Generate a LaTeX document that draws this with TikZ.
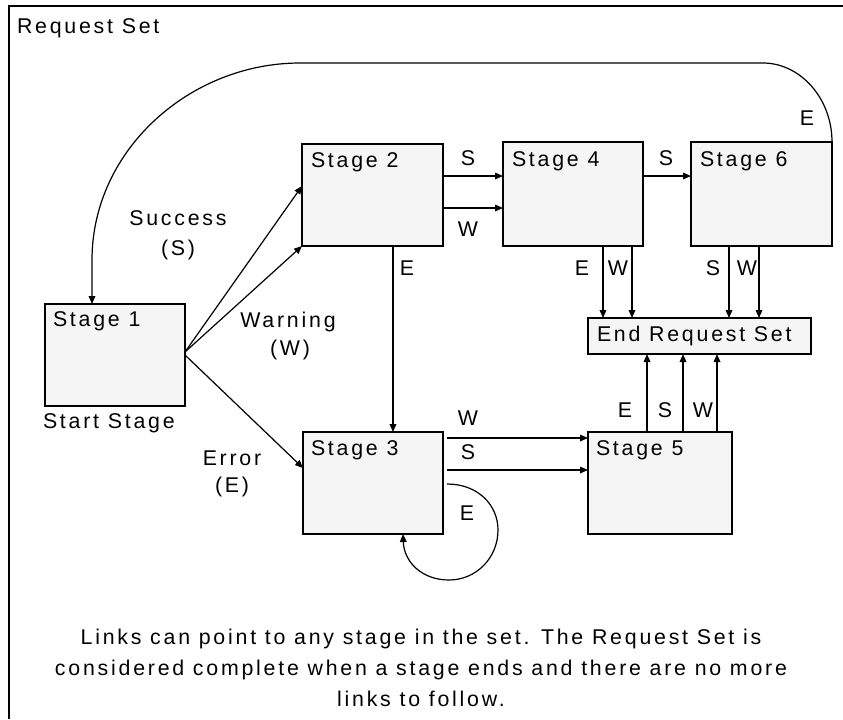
\documentclass[tikz,border=0pt]{standalone}
\usepackage{fontspec}
\setmainfont{Liberation Sans}[LetterSpace=13]
\usetikzlibrary{arrows.meta,calc}
\definecolor{boxgray}{RGB}{245,245,245}
\begin{document}
\begin{tikzpicture}[x=0.75pt,y=-0.75pt,
  every node/.style={font=\fontsize{16pt}{18pt}\selectfont, inner sep=0pt, outer sep=0pt},
  stagebox/.style={draw=black, line width=1.2pt, fill=boxgray, anchor=north west},
  arr/.style={line width=0.9pt, -{Triangle[length=6pt,width=5pt]}},
  plain/.style={line width=0.9pt}]
\useasboundingbox (0,0) rectangle (843,719);
\fill[white] (0,0) rectangle (843,719);
\draw[line width=1.5pt] (9,719) -- (9,6) -- (843,6);
\node[anchor=west] (title) at (17,28) {Request Set};

% boxes
\node[stagebox, minimum width=140*0.75pt, minimum height=102*0.75pt] (s1) at (45,304) {};
\node[stagebox, minimum width=141*0.75pt, minimum height=102*0.75pt] (s2) at (302,144) {};
\node[stagebox, minimum width=140*0.75pt, minimum height=104*0.75pt] (s4) at (503,142) {};
\node[stagebox, minimum width=141*0.75pt, minimum height=104*0.75pt] (s6) at (691,142) {};
\node[stagebox, minimum width=140*0.75pt, minimum height=102*0.75pt] (s3) at (303,432) {};
\node[stagebox, minimum width=144*0.75pt, minimum height=102*0.75pt] (s5) at (588,432) {};
\node[stagebox, minimum width=223*0.75pt, minimum height=36*0.75pt] (end) at (588,318) {};

\node[anchor=west] (t1) at ($(s1.north west)+(8,17)$) {Stage 1};
\node[anchor=west] (t2) at ($(s2.north west)+(9,18)$) {Stage 2};
\node[anchor=west] (t4) at ($(s4.north west)+(9,19)$) {Stage 4};
\node[anchor=west] (t6) at ($(s6.north west)+(9,19)$) {Stage 6};
\node[anchor=west] (t3) at ($(s3.north west)+(8,18)$) {Stage 3};
\node[anchor=west] (t5) at ($(s5.north west)+(8,18)$) {Stage 5};
\node[anchor=west] (tend) at ($(end.west)+(9,0)$) {End Request Set};
\node[anchor=west] (start) at (43,423) {Start Stage};

% Stage 1 outputs
\coordinate (o1) at ($(s1.north east)+(0,48)$);
\coordinate (o2) at ($(s1.north east)+(0,51)$);
\draw[arr] (o1) -- ($(s2.north west)+(0,42)$);
\draw[arr] (o1) -- (s2.south west);
\draw[arr] (o2) -- ($(s3.north west)+(0,36)$);
\node (succ) at (178,218) {Success};
\node (succs) at (178,250) {(S)};
\node (warn) at (288,322) {Warning};
\node (warnw) at (290,350) {(W)};
\node (err) at (232,458) {Error};
\node (erre) at (232,487) {(E)};

% Stage 2 -> Stage 3
\coordinate (a23) at ($(s2.south west)+(91,0)$);
\draw[arr] (a23) -- (a23 |- s3.north);
\node (l23) at (407,268) {E};

% Stage 2 -> Stage 4
\coordinate (a24s) at ($(s2.north east)+(0,32)$);
\coordinate (a24w) at ($(s2.north east)+(0,64)$);
\draw[arr] (a24s) -- (a24s -| s4.west);
\draw[arr] (a24w) -- (a24w -| s4.west);
\node (l24s) at (468,158) {S};
\node (l24w) at (468,229) {W};

% Stage 4 -> Stage 6
\coordinate (a46) at ($(s4.north east)+(0,34)$);
\draw[arr] (a46) -- (a46 -| s6.west);
\node (l46) at (666,158) {S};

% Stage 4 -> End
\coordinate (a4e1) at ($(s4.south west)+(100,0)$);
\coordinate (a4e2) at ($(s4.south west)+(129,0)$);
\draw[arr] (a4e1) -- (a4e1 |- end.north);
\draw[arr] (a4e2) -- (a4e2 |- end.north);
\node (l4e) at (582,268) {E};
\node (l4w) at (618,268) {W};

% Stage 6 -> End
\coordinate (a6e1) at ($(s6.south west)+(38,0)$);
\coordinate (a6e2) at ($(s6.south west)+(68,0)$);
\draw[arr] (a6e1) -- (a6e1 |- end.north);
\draw[arr] (a6e2) -- (a6e2 |- end.north);
\node (l6s) at (713,268) {S};
\node (l6w) at (747,268) {W};

% Stage 5 -> End
\coordinate (a5e1) at ($(s5.north west)+(59,0)$);
\coordinate (a5e2) at ($(s5.north west)+(95,0)$);
\coordinate (a5e3) at ($(s5.north west)+(129,0)$);
\draw[arr] (a5e1) -- (a5e1 |- end.south);
\draw[arr] (a5e2) -- (a5e2 |- end.south);
\draw[arr] (a5e3) -- (a5e3 |- end.south);
\node (l5e) at (625,410) {E};
\node (l5s) at (665,410) {S};
\node (l5w) at (703,410) {W};

% Stage 3 -> Stage 5
\coordinate (a35w) at ($(s3.north east)+(4,6)$);
\coordinate (a35s) at ($(s3.north east)+(4,38)$);
\draw[arr] (a35w) -- (a35w -| s5.west);
\draw[arr] (a35s) -- (a35s -| s5.west);
\node (l35w) at (468,418) {W};
\node (l35s) at (468,452) {S};

% Stage 3 self loop
\coordinate (lp) at ($(s3.north east)+(4,52)$);
\coordinate (lpe) at ($(s3.south west)+(100,0)$);
\draw[arr] (lp) .. controls (478,484) and (498,505) .. (498,530)
  .. controls (498,558) and (476,580) .. (449,580)
  .. controls (422,580) and (404,562) .. (lpe);
\node (l33) at (467,513) {E};

% Stage 6 -> Stage 1 big loop
\coordinate (bl) at ($(s1.north west)+(47,0)$);
\draw[arr] (s6.north east) .. controls (832,98) and (800,63) .. (763,63)
  -- (300,63) .. controls (190,63) and (92,150) .. (92,260) -- (bl);
\node (l61) at (807,118) {E};

% note
\node[align=center, font=\fontsize{16pt}{23pt}\selectfont] (note) at (421,668)
  {Links can point to any stage in the set. The Request Set is\\
   considered complete when a stage ends and there are no more\\
   links to follow.};
\end{tikzpicture}
\end{document}
